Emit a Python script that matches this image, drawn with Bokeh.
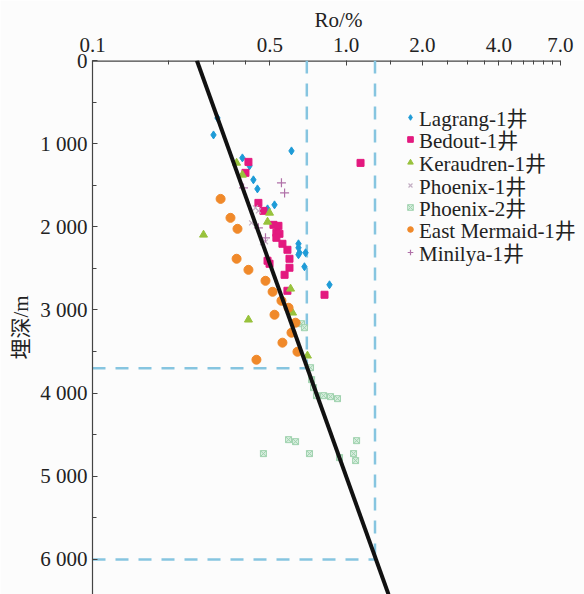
from bokeh.plotting import figure
from bokeh.models import Range1d, FixedTicker, CustomJSTickFormatter, Legend, LegendItem
from bokeh.embed import file_html
from bokeh.resources import INLINE

# ---------------- data (Ro in %, depth in m) ----------------
lagrang_ro = [0.311, 0.300, 0.609, 0.390, 0.416, 0.431, 0.447, 0.522, 0.490,
              0.649, 0.649, 0.655, 0.649, 0.692, 0.685, 0.860]
lagrang_depth = [691, 895, 1087, 1171, 1267, 1435, 1544, 1736, 1784,
                 2204, 2252, 2312, 2336, 2312, 2480, 2697]

bedout_ro = [0.412, 0.401, 1.14, 0.451, 0.472, 0.517, 0.541, 0.531, 0.546, 0.531,
             0.561, 0.587, 0.598, 0.598, 0.572, 0.490, 0.499, 0.587, 0.822]
bedout_depth = [1219, 1351, 1231, 1712, 1808, 1976, 1988, 2072, 2084, 2132,
                2204, 2276, 2384, 2492, 2577, 2408, 2444, 2769, 2817]

keraudren_ro = [0.370, 0.390, 0.499, 0.490, 0.274, 0.604, 0.615, 0.412, 0.704]
keraudren_depth = [1231, 1375, 1832, 1940, 2096, 2745, 3033, 3117, 3550]

phoenix1_ro = [0.439, 0.451, 0.424, 0.481, 0.468]
phoenix1_depth = [1772, 1808, 1952, 2180, 2192]

phoenix2_ro = [0.667, 0.685, 0.724, 0.731, 0.744, 0.764, 0.815, 0.868, 0.925,
               0.593, 0.632, 0.472, 0.717, 0.942, 1.10, 1.07, 1.09]
phoenix2_depth = [3165, 3213, 3694, 3838, 3934, 4030, 4030, 4042, 4066,
                  4559, 4583, 4727, 4727, 4775, 4571, 4727, 4811]

mermaid_ro = [0.320, 0.350, 0.373, 0.370, 0.412, 0.481, 0.513, 0.556, 0.593,
              0.522, 0.632, 0.609, 0.561, 0.643, 0.443]
mermaid_depth = [1664, 1892, 2024, 2384, 2517, 2649, 2781, 2889, 2973,
                 3057, 3153, 3273, 3393, 3502, 3598]

minilya_ro = [0.556, 0.572, 0.394, 0.451, 0.481]
minilya_depth = [1471, 1592, 1532, 2012, 2132]

trend_ro = [0.258, 1.47]
trend_depth = [0, 6420]

ro_limits = [0.7, 1.3]
depth_limits = [3700, 6000]

x_ticks = [0.1, 0.5, 1.0, 2.0, 4.0, 7.0]
x_minor = [0.2, 0.3, 0.4, 1.5, 2.5, 3.0, 3.5, 4.5, 5.0, 5.5, 6.0, 6.5]
y_ticks = [0, 1000, 2000, 3000, 4000, 5000, 6000]
y_minor = [500, 1500, 2500, 3500, 4500, 5500]

series_labels = ["Lagrang-1井", "Bedout-1井", "Keraudren-1井", "Phoenix-1井",
                 "Phoenix-2井", "East Mermaid-1井", "Minilya-1井"]

FONT = "'Liberation Serif', 'Times New Roman', 'Noto Sans CJK SC'"
BG = "#fcfcfc"
AXC = "#444444"

p = figure(width=584, height=594, x_axis_type="log", x_axis_location="above",
           x_range=Range1d(0.1, 8.71), y_range=Range1d(6421, 0),
           output_backend="svg", toolbar_location=None,
           min_border_left=92, min_border_right=0, min_border_top=60,
           min_border_bottom=0, background_fill_color=BG, border_fill_color=BG)
p.outline_line_color = None
p.grid.visible = False

xa = p.xaxis[0]
xa.ticker = FixedTicker(ticks=x_ticks, minor_ticks=x_minor)
xa.formatter = CustomJSTickFormatter(code="return tick.toFixed(1);")
ya = p.yaxis[0]
ya.ticker = FixedTicker(ticks=y_ticks, minor_ticks=y_minor)
ya.formatter = CustomJSTickFormatter(
    code="if (tick == 0) {return '0';} return (tick/1000).toFixed(0) + ' 000';")

for ax in (xa, ya):
    ax.axis_line_color = AXC
    ax.axis_line_width = 1.2
    ax.major_tick_in = 5
    ax.major_tick_out = 0
    ax.minor_tick_in = 4
    ax.minor_tick_out = 0
    ax.major_tick_line_color = AXC
    ax.minor_tick_line_color = AXC
    ax.major_label_text_font = FONT
    ax.major_label_text_font_size = "21px"
    ax.major_label_text_color = "#222222"
    ax.axis_label_text_font = FONT
    ax.axis_label_text_font_size = "21px"
    ax.axis_label_text_font_style = "normal"
    ax.axis_label_text_color = "#222222"

xa.axis_line_color = None
xa.axis_label = "Ro/%"
xa.major_label_standoff = 9
xa.axis_label_standoff = 3
ya.axis_label = "埋深/m"
ya.major_label_standoff = 5
ya.axis_label_standoff = 4

# top axis line only over the labelled span 0.1 – 7.0
p.segment(x0=[x_ticks[0]], y0=[0], x1=[x_ticks[-1]], y1=[0],
          line_color=AXC, line_width=2.4)

# threshold dashed lines
DASH = "#86c5e0"
p.segment(x0=[ro_limits[0]], y0=[0], x1=[ro_limits[0]], y1=[depth_limits[0]],
          line_color=DASH, line_width=2.5, line_dash="13 10")
p.segment(x0=[0.1], y0=[depth_limits[0]], x1=[ro_limits[0]], y1=[depth_limits[0]],
          line_color=DASH, line_width=2.5, line_dash="13 10")
p.segment(x0=[ro_limits[1]], y0=[0], x1=[ro_limits[1]], y1=[depth_limits[1]],
          line_color=DASH, line_width=2.5, line_dash="13 10")
p.segment(x0=[0.1], y0=[depth_limits[1]], x1=[ro_limits[1]], y1=[depth_limits[1]],
          line_color=DASH, line_width=2.5, line_dash="13 10")

r_lag = p.scatter(lagrang_ro, lagrang_depth, marker="diamond", size=8,
                  fill_color="#1e9bd7", line_color="#1e9bd7")
r_bed = p.scatter(bedout_ro, bedout_depth, marker="square", size=7,
                  fill_color="#e3197f", line_color="#e3197f")
r_ker = p.scatter(keraudren_ro, keraudren_depth, marker="triangle", size=8,
                  fill_color="#98c23c", line_color="#98c23c")
r_ph1 = p.scatter(phoenix1_ro, phoenix1_depth, marker="x", size=7,
                  line_color="#c4afc4", line_width=1.2)
r_ph2 = p.scatter(phoenix2_ro, phoenix2_depth, marker="square_x", size=6,
                  fill_color="#d8eedf", line_color="#9fd2ae", line_width=1)
r_mer = p.scatter(mermaid_ro, mermaid_depth, marker="circle", size=9,
                  fill_color="#f0892a", line_color="#f0892a")
r_min = p.scatter(minilya_ro, minilya_depth, marker="cross", size=9,
                  line_color="#b070a8", line_width=1.2)

p.line(trend_ro, trend_depth, line_color="#111111", line_width=4)

# one single-row legend per series so that rows sit 22.5 px apart
renderers = [r_lag, r_bed, r_ker, r_ph1, r_ph2, r_mer, r_min]
for i, (lab, rend) in enumerate(zip(series_labels, renderers)):
    lg = Legend(items=[LegendItem(label=lab, renderers=[rend])],
                location=(311, round(462 - i * 22.5)))
    lg.background_fill_alpha = 0
    lg.border_line_color = None
    lg.padding = 0
    lg.margin = 0
    lg.spacing = 0
    lg.glyph_width = 14
    lg.glyph_height = 22
    lg.label_height = 22
    lg.label_standoff = 2
    lg.label_text_font = FONT
    lg.label_text_font_size = "21px"
    lg.label_text_color = "#222222"
    p.add_layout(lg, "center")

open("out.html", "w").write(file_html(p, INLINE))
